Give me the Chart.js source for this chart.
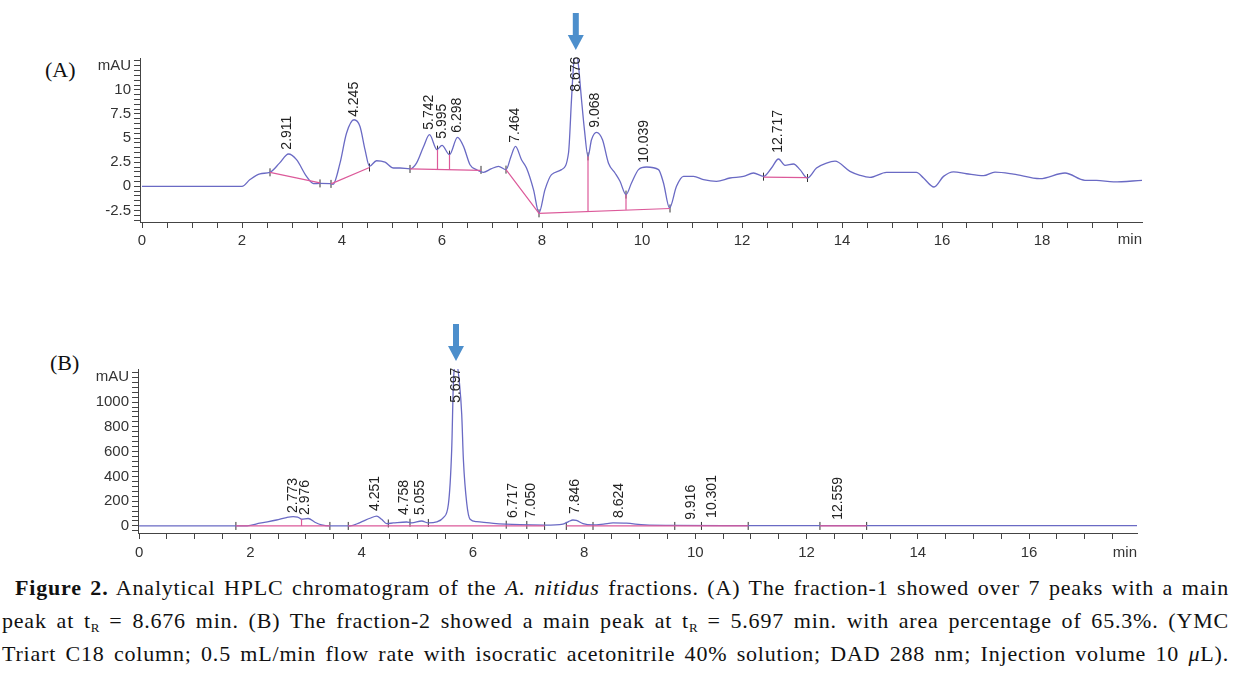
<!DOCTYPE html>
<html lang="en">
<head>
<meta charset="UTF-8">
<title>Analytical HPLC chromatogram</title>
<script src="https://cdn.jsdelivr.net/npm/chart.js"></script>
<style>
  body { margin: 0; background: #fff; width: 1247px; height: 683px; position: relative; overflow: hidden; }
  canvas { position: absolute; }
  .panel { position: absolute; font-family: 'Liberation Serif', serif; font-size: 22px; line-height: 22px; color: #111; }
  .cap { position: absolute; left: 2px; top: 571px; width: 1227px; font-family: 'Liberation Serif', serif;
         font-size: 22px; letter-spacing: 0.8px; line-height: 33px; color: #111; }
  .cap div { text-align: justify; text-align-last: justify; }
  .cap sub { font-size: 13px; vertical-align: -4px; line-height: 0; letter-spacing: 0; }
</style>
</head>
<body>
<div class="panel" style="left:45px; top:59px;">(A)</div>
<div class="panel" style="left:50px; top:352px;">(B)</div>
<canvas id="chartA" width="1080" height="252" style="left:90px; top:0px;"></canvas>
<canvas id="chartB" width="1080" height="253" style="left:88px; top:310px;"></canvas>
<div class="cap">
  <div style="padding-left:13px;"><b>Figure 2.</b> Analytical HPLC chromatogram of the <i>A. nitidus</i> fractions. (A) The fraction-1 showed over 7 peaks with a main</div>
  <div>peak at t<sub>R</sub> = 8.676 min. (B) The fraction-2 showed a main peak at t<sub>R</sub> = 5.697 min. with area percentage of 65.3%. (YMC</div>
  <div>Triart C18 column; 0.5 mL/min flow rate with isocratic acetonitrile 40% solution; DAD 288 nm; Injection volume 10 <i>μ</i>L).</div>
</div>

<script>
// ---- (A) fraction-1, signal in mAU vs time in min ----
const traceA = [
  [0,0],[2.0,0],[2.16,0.7],[2.36,1.3],[2.56,1.45],[2.75,2.4],[2.93,3.35],[3.09,2.76],[3.29,1.03],[3.43,0.28],
  [3.56,0.3],[3.76,0.28],[3.82,0.2],[3.96,2.4],[4.09,5.5],[4.24,6.9],[4.36,6.2],[4.46,3.8],[4.55,2.07],[4.69,2.65],
  [4.86,2.5],[5.03,1.9],[5.16,1.9],[5.36,1.8],[5.49,2.4],[5.63,4.1],[5.75,5.35],[5.90,3.8],[6.00,4.25],[6.15,3.28],
  [6.31,5.07],[6.43,4.14],[6.56,2.24],[6.69,1.73],[6.83,1.45],[6.98,1.8],[7.13,2.07],[7.28,1.73],[7.38,3.1],[7.47,4.14],
  [7.59,2.76],[7.69,1.9],[7.83,-0.34],[7.94,-2.75],[8.06,-0.34],[8.19,1.21],[8.39,1.73],[8.53,3.45],[8.59,9.0],[8.63,12.5],
  [8.68,14.5],[8.73,12.5],[8.79,9.0],[8.85,5.8],[8.92,3.1],[8.99,4.83],[9.09,5.6],[9.21,4.83],[9.33,2.4],[9.46,1.38],
  [9.56,0.52],[9.68,-0.86],[9.79,0.34],[9.93,1.73],[10.09,2.0],[10.33,1.73],[10.43,0.34],[10.55,-2.24],[10.69,0],[10.83,1.03],
  [11.03,1.03],[11.23,0.7],[11.49,0.52],[11.76,0.86],[12.03,1.03],[12.23,1.38],[12.43,1.03],[12.59,1.9],[12.73,2.83],[12.86,2.17],
  [13.03,2.31],[13.16,1.73],[13.31,0.86],[13.49,1.9],[13.69,2.41],[13.86,2.6],[14.16,1.55],[14.36,1.14],[14.56,0.93],[14.89,1.45],
  [15.49,1.45],[15.63,0.86],[15.84,-0.07],[16.03,1.03],[16.23,1.5],[16.49,1.3],[16.83,1.1],[17.06,1.48],[17.43,1.27],[17.96,0.79],
  [18.46,1.38],[18.86,0.62],[19.09,0.62],[19.43,0.45],[20.0,0.62]
];
const baselineA = [
  [[2.56,1.45],[3.56,0.35]],
  [[3.78,0.25],[4.55,1.95]],
  [[5.36,1.8],[6.78,1.65]],
  [[7.28,1.73],[7.94,-2.8],[10.56,-2.3]],
  [[12.43,0.95],[13.31,0.9]],
  [[5.91,1.75],[5.91,3.8]],
  [[6.15,1.72],[6.15,3.28]],
  [[8.92,-2.58],[8.92,3.1]],
  [[9.68,-2.41],[9.68,-0.86]]
];
const marksA = [[2.56,1.45],[3.56,0.3],[3.78,0.25],[4.55,1.95],[5.36,1.8],[6.78,1.7],[7.28,1.73],[7.94,-2.8],
  [10.56,-2.3],[12.43,1.0],[13.31,0.86],[5.91,3.8],[6.15,3.28],[8.92,3.1],[9.68,-0.86]];
const peakLabelsA = ['2.911','4.245','5.742','5.995','6.298','7.464','8.676','9.068','10.039','12.717'];
const peakBaseA   = [3.8, 7.2, 5.86, 4.93, 5.55, 4.52, 9.8, 6.07, 2.45, 3.48];
const xLabelsA = [0,2,4,6,8,10,12,14,16,18];
const yLabelsA = [-2.5,0,2.5,5,7.5,10];

// ---- (B) fraction-2 ----
const traceB = [
  [0,0],[1.9,0],[2.0,5],[2.17,22],[2.47,48],[2.65,68],[2.77,75],[2.85,72],[2.92,54],[3.04,60],[3.16,30],[3.28,8],
  [3.43,0],[3.79,0],[3.97,27],[4.15,62],[4.27,80],[4.36,54],[4.45,19],[4.57,24],[4.81,32],[4.9,24],[5.08,40],[5.2,24],
  [5.35,32],[5.47,67],[5.56,175],[5.62,620],[5.65,1150],[5.70,1330],[5.76,1150],[5.80,900],[5.83,534],[5.89,183],
  [5.95,54],[6.07,35],[6.37,21],[6.85,10],[7.3,7],[7.62,15],[7.72,35],[7.80,48],[7.86,45],[7.98,18],[8.16,8],
  [8.35,15],[8.52,24],[8.76,22],[9.1,8],[9.58,5],[10.5,3],[12.0,2],[14.0,2],[17.94,2]
];
const baselineB = [
  [[1.74,0],[3.43,0]],
  [[3.76,0],[7.29,0]],
  [[7.68,0],[10.95,0]],
  [[12.24,0],[13.08,0]],
  [[2.92,0],[2.92,54]]
];
const marksB = [[1.74,0],[3.43,0],[3.76,0],[4.48,20],[4.87,26],[5.2,24],[6.6,10],[6.97,8],[7.29,0],[7.68,0],
  [8.16,0],[9.63,0],[10.11,0],[10.95,0],[12.24,0],[13.08,0]];
const peakLabelsB = ['2.773','2.976','4.251','4.758','5.055','5.697','6.717','7.050','7.846','8.624','9.916','10.301','12.559'];
const peakBaseB   = [105, 89, 121, 89, 89, 994, 65, 65, 97, 65, 49, 65, 49];
const xLabelsB = [0,2,4,6,8,10,12,14,16];
const yLabelsB = [0,200,400,600,800,1000];

function range(a, b, step) {
  const out = [];
  for (let i = 0; a + i * step <= b + 1e-9; i++) out.push(Math.round((a + i * step) * 100) / 100);
  return out;
}
const toXY = pts => pts.map(p => ({ x: p[0], y: p[1] }));
function segments(segs) {
  const out = [];
  segs.forEach(s => { out.push(...toXY(s)); out.push({ x: s[s.length - 1][0], y: null }); });
  return out;
}

const TRACE = '#6a6ac4', PINK = '#dc5a9a', AXIS = '#444', TXT = '#333';
const sans = '"Liberation Sans", Arial, sans-serif';

function decor(labels, bases, arrowAt, minOffset) {
  return {
    id: 'decor',
    afterDatasetsDraw(chart) {
      const { ctx, chartArea, scales: { x, y } } = chart;
      ctx.save();
      ctx.font = '14px ' + sans;
      ctx.fillStyle = '#222';
      ctx.textAlign = 'left';
      ctx.textBaseline = 'middle';
      labels.forEach((t, i) => {
        ctx.save();
        ctx.translate(x.getPixelForValue(parseFloat(t)), y.getPixelForValue(bases[i]));
        ctx.rotate(-Math.PI / 2);
        ctx.fillText(t, 0, 0);
        ctx.restore();
      });
      // blue arrow over the main peak
      const ax = x.getPixelForValue(arrowAt), top = chartArea.top;
      ctx.fillStyle = '#4d8fcc';
      ctx.fillRect(ax - 3, top - 45, 6, 23);
      ctx.beginPath();
      ctx.moveTo(ax - 8, top - 23);
      ctx.lineTo(ax + 8, top - 23);
      ctx.lineTo(ax, top - 8);
      ctx.closePath();
      ctx.fill();
      // axis unit at the end of the time axis
      ctx.fillStyle = TXT;
      ctx.font = '15px ' + sans;
      ctx.textAlign = 'right';
      ctx.textBaseline = 'alphabetic';
      ctx.fillText('min', chartArea.right, chartArea.bottom + minOffset);
      ctx.restore();
    }
  };
}

function makeChart(id, o) {
  return new Chart(document.getElementById(id), {
    type: 'line',
    data: {
      datasets: [
        { data: segments(o.baseline), borderColor: PINK, borderWidth: 1.2, pointRadius: 0, spanGaps: false, tension: 0 },
        { data: toXY(o.trace), borderColor: TRACE, borderWidth: 1.3, pointRadius: 0, cubicInterpolationMode: 'monotone' },
        { data: toXY(o.marks), showLine: false, pointStyle: 'line', rotation: 90, pointRadius: 4,
          pointBorderColor: '#333', pointBorderWidth: 1 }
      ]
    },
    options: {
      responsive: false, animation: false, devicePixelRatio: 1,
      layout: { padding: { top: o.padTop, right: o.padRight, left: 0, bottom: 0 } },
      plugins: { legend: { display: false }, tooltip: { enabled: false } },
      scales: {
        x: {
          type: 'linear', min: o.xMin, max: o.xMax,
          afterBuildTicks: s => { s.ticks = o.xTicks.map(v => ({ value: v })); },
          afterFit: s => { s.height = 30; },
          grid: { drawOnChartArea: false, drawTicks: true, tickLength: 6, color: AXIS },
          border: { color: AXIS, width: 1 },
          ticks: { autoSkip: false, maxRotation: 0, padding: o.xPad, color: TXT, font: { family: 'Liberation Sans', size: 15 },
                   callback: v => o.xLabels.includes(v) ? String(v) : '' }
        },
        y: {
          type: 'linear', min: o.yMin, max: o.yMax,
          afterBuildTicks: s => { s.ticks = o.yTicks.map(v => ({ value: v })); },
          afterFit: s => { s.width = 50; },
          grid: { drawOnChartArea: false, drawTicks: true, tickLength: 6, color: AXIS },
          border: { color: AXIS, width: 1 },
          ticks: { autoSkip: false, padding: 3, color: TXT, font: { family: 'Liberation Sans', size: 15 },
                   callback: v => v === o.unitAt ? 'mAU' : (o.yLabels.includes(v) ? String(v) : '') }
        }
      }
    },
    plugins: [decor(o.labels, o.bases, o.arrowAt, o.minOffset)]
  });
}

makeChart('chartA', {
  trace: traceA, baseline: baselineA, marks: marksA, labels: peakLabelsA, bases: peakBaseA,
  arrowAt: 8.676, xMin: -0.04, xMax: 20, yMin: -3.7, yMax: 13.3,
  xTicks: range(0, 19.5, 0.5), xLabels: xLabelsA, yTicks: range(-3.5, 13, 0.5), yLabels: yLabelsA, unitAt: 12.5,
  padTop: 58, padRight: 28, xPad: 4, minOffset: 22
});
makeChart('chartB', {
  trace: traceB, baseline: baselineB, marks: marksB, labels: peakLabelsB, bases: peakBaseB,
  arrowAt: 5.697, xMin: -0.02, xMax: 17.94, yMin: -57, yMax: 1267,
  xTicks: range(0, 17.5, 0.5), xLabels: xLabelsB, yTicks: range(-40, 1240, 40), yLabels: yLabelsB, unitAt: 1200,
  padTop: 59, padRight: 31, xPad: 5, minOffset: 23.5
});
</script>
</body>
</html>
